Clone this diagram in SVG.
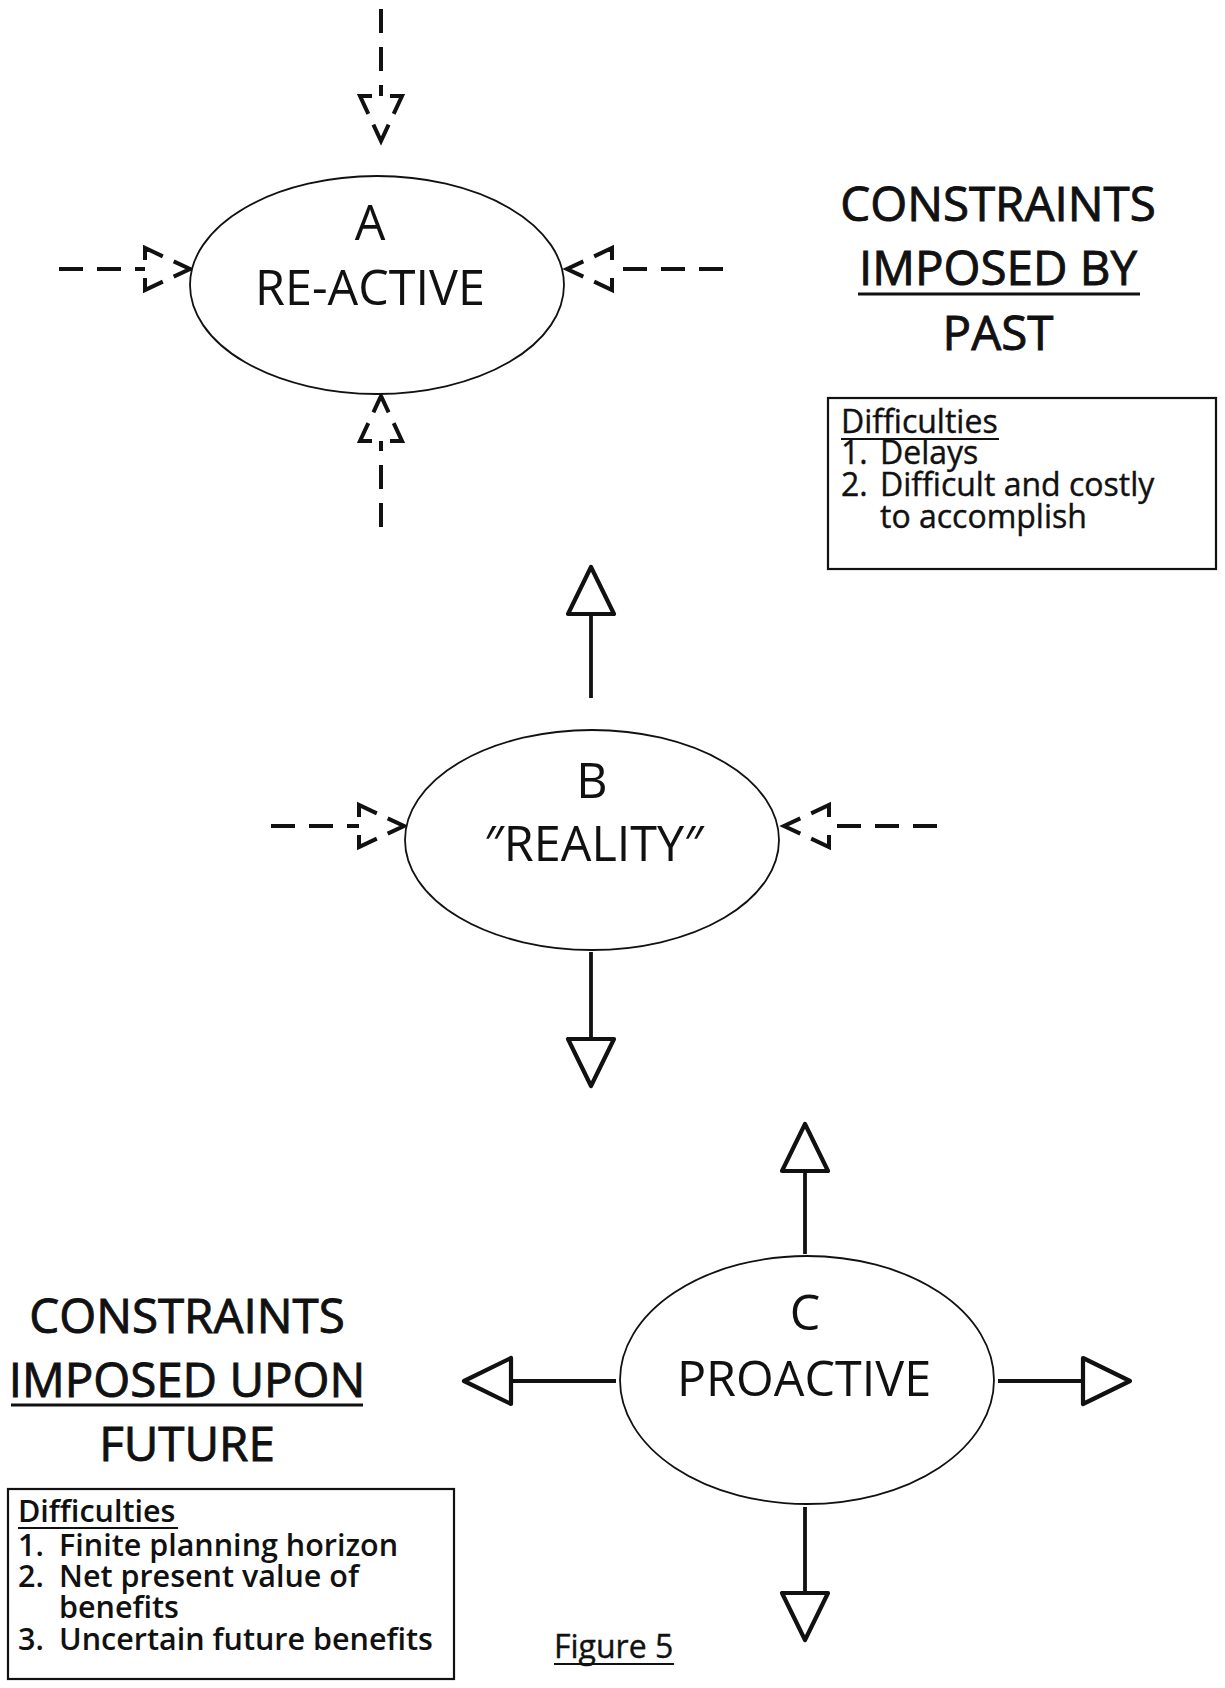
<svg xmlns="http://www.w3.org/2000/svg" width="1225" height="1688" viewBox="0 0 1225 1688">
  <style>
    .node-shape { fill: #fff; stroke: #111; stroke-width: 1.8; }
    .lbl { font-family: "Open Sans", "Noto Sans", sans-serif; font-weight: 400; fill: #111; text-anchor: middle; }
    .node-lbl { font-size: 48.5px; }
    .title { font-size: 47.5px; stroke: #111; stroke-width: 0.9px; }
    .note { font-family: "Open Sans", "Noto Sans", sans-serif; font-weight: 400; font-size: 32px; fill: #111; stroke: #111; stroke-width: 0.4px; }
    .note-heavy { font-weight: 600; font-size: 30.5px; stroke: none; }
    .box { fill: none; stroke: #111; stroke-width: 2.2; }
    .uline { stroke: #111; stroke-width: 2.8; }
    .uline-sm { stroke: #111; stroke-width: 2.2; }
    .solid { fill: none; stroke: #111; stroke-width: 3.8; }
    .dashed { fill: none; stroke: #111; stroke-width: 4; stroke-dasharray: 24 14; }
  </style>
  <defs>
    <!-- open triangle head for the solid outward arrows -->
    <marker id="head-solid" markerUnits="userSpaceOnUse" viewBox="-5 -30 60 60" markerWidth="60" markerHeight="60" refX="0" refY="0" orient="auto" overflow="visible">
      <polygon points="0,-23 47,0 0,23" fill="#fff" stroke="#111" stroke-width="4.2" stroke-linejoin="round"/>
    </marker>
    <!-- dashed open triangle head for the inward arrows: solid corners, broken sides -->
    <marker id="head-dashed" markerUnits="userSpaceOnUse" viewBox="-5 -30 60 60" markerWidth="60" markerHeight="60" refX="0" refY="0" orient="auto" overflow="visible">
      <path d="M45,0 L0,21 L0,-21 Z" fill="none" stroke="#111" stroke-width="4" stroke-dasharray="18 12 31.66 18 31.66 12 18"/>
    </marker>
  </defs>

  <!-- connectors -->
  <g id="connectors">
    <!-- into A -->
    <path class="dashed" d="M381,9 V96" marker-end="url(#head-dashed)"/>
    <path class="dashed" d="M59,269 H145" marker-end="url(#head-dashed)"/>
    <path class="dashed" d="M723,269 H612" marker-end="url(#head-dashed)"/>
    <path class="dashed" d="M381,527 V441" marker-end="url(#head-dashed)"/>
    <!-- B -->
    <path class="solid" d="M591,698 V614" marker-end="url(#head-solid)"/>
    <path class="solid" d="M591,952 V1039" marker-end="url(#head-solid)"/>
    <path class="dashed" d="M271,826 H359" marker-end="url(#head-dashed)"/>
    <path class="dashed" d="M937,826 H829" marker-end="url(#head-dashed)"/>
    <!-- out of C -->
    <path class="solid" d="M805,1254 V1171" marker-end="url(#head-solid)"/>
    <path class="solid" d="M805,1507 V1593" marker-end="url(#head-solid)"/>
    <path class="solid" d="M616,1381 H511" marker-end="url(#head-solid)"/>
    <path class="solid" d="M998,1381 H1083" marker-end="url(#head-solid)"/>
  </g>

  <!-- A: re-active -->
  <g id="node-a">
    <ellipse class="node-shape" cx="377" cy="285" rx="187" ry="109"/>
    <text class="lbl node-lbl" x="370" y="240">A</text>
    <text class="lbl node-lbl" x="370" y="305">RE-ACTIVE</text>
  </g>

  <!-- B: reality -->
  <g id="node-b">
    <ellipse class="node-shape" cx="592" cy="840" rx="187" ry="110"/>
    <text class="lbl node-lbl" x="592" y="798">B</text>
    <text class="lbl node-lbl" x="594" y="861">″REALITY″</text>
  </g>

  <!-- C: proactive -->
  <g id="node-c">
    <ellipse class="node-shape" cx="807" cy="1380" rx="187" ry="124"/>
    <text class="lbl node-lbl" x="805" y="1330">C</text>
    <text class="lbl node-lbl" x="804" y="1396">PROACTIVE</text>
  </g>

  <!-- constraints from the past -->
  <g id="past-title">
    <text class="lbl title" x="998" y="221">CONSTRAINTS</text>
    <text class="lbl title" x="998" y="285">IMPOSED BY</text>
    <line class="uline" x1="858" y1="294" x2="1140" y2="294"/>
    <text class="lbl title" x="998" y="350">PAST</text>
  </g>

  <g id="past-box">
    <rect class="box" x="828" y="398" width="388" height="171"/>
    <text class="note" x="841" y="433">Difficulties</text>
    <line class="uline-sm" x1="841" y1="439" x2="999" y2="439"/>
    <text class="note" x="841" y="464">1.</text>
    <text class="note" x="880" y="464">Delays</text>
    <text class="note" x="841" y="496">2.</text>
    <text class="note" x="880" y="496">Difficult and costly</text>
    <text class="note" x="880" y="528">to accomplish</text>
  </g>

  <!-- constraints upon the future -->
  <g id="future-title">
    <text class="lbl title" x="187" y="1333">CONSTRAINTS</text>
    <text class="lbl title" x="187" y="1397">IMPOSED UPON</text>
    <line class="uline" x1="11" y1="1405" x2="363" y2="1405"/>
    <text class="lbl title" x="187" y="1461">FUTURE</text>
  </g>

  <g id="future-box">
    <rect class="box" x="8" y="1489" width="446" height="190"/>
    <text class="note note-heavy" x="18" y="1522">Difficulties</text>
    <line class="uline-sm" x1="18" y1="1528" x2="178" y2="1528"/>
    <text class="note note-heavy" x="18" y="1556">1.</text>
    <text class="note note-heavy" x="59" y="1556">Finite planning horizon</text>
    <text class="note note-heavy" x="18" y="1587">2.</text>
    <text class="note note-heavy" x="59" y="1587">Net present value of</text>
    <text class="note note-heavy" x="59" y="1618">benefits</text>
    <text class="note note-heavy" x="18" y="1650">3.</text>
    <text class="note note-heavy" x="59" y="1650">Uncertain future benefits</text>
  </g>

  <g id="caption">
    <text class="note" x="554" y="1658">Figure 5</text>
    <line class="uline-sm" x1="554" y1="1664" x2="674" y2="1664"/>
  </g>
</svg>
